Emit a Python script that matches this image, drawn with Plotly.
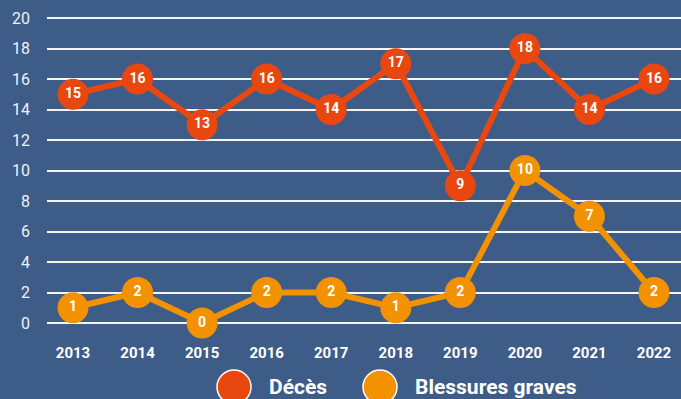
import plotly.graph_objects as go

# Annual counts
years = ["2013", "2014", "2015", "2016", "2017", "2018", "2019", "2020", "2021", "2022"]
deces = [15, 16, 13, 16, 14, 17, 9, 18, 14, 16]
blessures = [1, 2, 0, 2, 2, 1, 2, 10, 7, 2]
y_ticks = [0, 2, 4, 6, 8, 10, 12, 14, 16, 18, 20]

BG = "#3d5c88"
RED = "#e8470f"
ORANGE = "#f39200"
FONT = "Roboto"

x_idx = list(range(len(years)))

fig = go.Figure()
for name, vals, color in [("Blessures graves", blessures, ORANGE), ("Décès", deces, RED)]:
    fig.add_trace(go.Scatter(
        x=x_idx, y=vals, name=name,
        mode="lines+markers+text",
        line=dict(color=color, width=6),
        marker=dict(color=color, size=31),
        text=[str(v) for v in vals],
        textposition="middle center",
        textfont=dict(color="white", size=14, family=FONT, weight="bold"),
        cliponaxis=False,
        showlegend=False,
    ))

# Legend drawn as circles and labels below the plot
L, R, T, B = 47, 0, 10, 60
W, H = 681, 399
pw, ph = W - L - R, H - T - B

def px_x(x):
    return (x - L) / pw

def px_y(y):
    return (H - B - y) / ph

shapes = []
annotations = []
for cx, label_x, label, color in [(234, 267, "Décès", RED), (380, 413, "Blessures graves", ORANGE)]:
    shapes.append(dict(
        type="circle", xref="paper", yref="paper",
        xsizemode="pixel", ysizemode="pixel",
        xanchor=px_x(cx), yanchor=px_y(387),
        x0=-17, x1=17, y0=-17, y1=17,
        fillcolor=color, line=dict(color="white", width=1.5),
    ))
    annotations.append(dict(
        xref="paper", yref="paper", x=px_x(label_x), y=px_y(387),
        xanchor="left", yanchor="middle", showarrow=False,
        text=label, font=dict(color="white", size=21, family=FONT, weight="bold"),
    ))

step = (654 - 73) / 9
fig.update_layout(
    width=W, height=H,
    margin=dict(l=L, r=R, t=T, b=B),
    paper_bgcolor=BG, plot_bgcolor=BG,
    shapes=shapes, annotations=annotations,
    xaxis=dict(
        range=[-(73 - L) / step, 9 + (W - 654) / step],
        tickvals=x_idx, ticktext=years,
        showgrid=False, zeroline=False, showline=False,
        tickfont=dict(color="white", size=15, family=FONT, weight="bold"),
        ticklabelstandoff=3,
    ),
    yaxis=dict(
        range=[-(339 - 323) / 15.25, 20 + (18 - T) / 15.25],
        tickvals=y_ticks,
        showgrid=True, gridcolor="#f4f4f4", gridwidth=2,
        zeroline=False, showline=False,
        tickfont=dict(color="#eef2f7", size=16, family=FONT),
        ticklabelstandoff=16,
    ),
)

fig.write_html("out.html")
